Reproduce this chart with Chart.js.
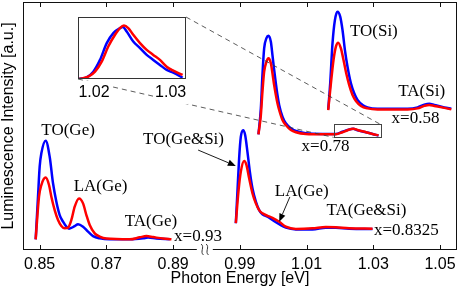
<!DOCTYPE html>
<html><head><meta charset="utf-8">
<script src="https://cdn.jsdelivr.net/npm/chart.js@4/dist/chart.umd.min.js"></script>
<style>
html,body{margin:0;padding:0;background:#fff;}
#wrap{position:relative;width:463px;height:291px;overflow:hidden;}
#main{position:absolute;left:0;top:0;}
#inset{position:absolute;left:60px;top:10px;}
</style></head><body>
<div id="wrap"><canvas id="main" width="463" height="291"></canvas><canvas id="inset" width="135" height="95"></canvas></div>
<script>
// ---- broken energy axis: 0.89 .. 0.97 eV is cut out ----
const GAP = 0.08;
const toAxis = e => (e > 0.9 ? e - GAP : e);
const identity = e => e;

const tickEnergies = [0.85, 0.87, 0.89, 0.99, 1.01, 1.03, 1.05];
const tickLabels   = ['0.85', '0.87', '0.89', '0.99', '1.01', '1.03', '1.05'];

// x = 0.93 (Ge band)
const e093Blue = [0.8488,0.8495,0.8500,0.8505,0.8518,0.8530,0.8540,0.8550,0.8560,0.8570,0.8580,0.8588,0.8605,0.8615,0.8630,0.8645,0.8660,0.8680,0.8710,0.8770,0.8810,0.8825,0.8850,0.8890];
const i093Blue = [4.3,21.5,33.6,39.0,44.1,37.6,26.9,19.5,14.1,11.4,9.4,8.6,9.6,10.4,9.4,7.4,5.6,4.7,4.3,4.3,4.7,5.0,4.6,4.3];
const e093Red  = [0.8488,0.8498,0.8505,0.8518,0.8528,0.8535,0.8545,0.8555,0.8565,0.8575,0.8585,0.8595,0.8605,0.8618,0.8630,0.8640,0.8650,0.8665,0.8680,0.8700,0.8770,0.8800,0.8820,0.8840,0.8870,0.8895];
const i093Red  = [4.3,21.5,26.2,29.2,26.2,21.5,16.1,12.1,9.7,8.75,9.0,12.1,17.5,20.8,18.8,14.1,10.1,6.7,5.4,4.6,4.3,5.1,5.6,5.2,4.6,4.3];

// x = 0.8325
const e08325Blue = [0.9888,0.98928,0.98979,0.9903,0.99099,0.99159,0.99228,0.9930,0.99378,0.9948,0.99579,0.99678,0.99828,0.99978,1.00179,1.0038,1.0068,1.01178,1.01578,1.01878,1.02279,1.02978];
const i08325Blue = [10.8,23.5,37.0,45.7,48.3,46.4,39.6,31.6,24.9,19.5,16.1,14.4,13.4,12.1,10.4,9.0,8.3,8.3,9.0,9.0,8.6,8.5];
const e08325Red  = [0.9888,0.98958,0.9903,0.99129,0.99198,0.99279,0.99378,0.9948,0.99579,0.99678,0.99828,0.99978,1.00179,1.0038,1.0068,1.01178,1.01578,1.01878,1.02279,1.02978];
const i08325Red  = [10.8,23.5,31.6,35.9,34.3,28.9,22.9,18.8,16.1,14.8,13.8,13.0,11.4,9.4,8.5,8.75,9.3,9.15,8.75,8.6];

// x = 0.78
const e078 = [0.99558,0.9963,0.99678,0.99729,0.99798,0.99858,0.9993,0.99978,1.00029,1.0008,1.00128,1.00179,1.00278,1.00378,1.0053,1.0068,1.0098,1.01478,1.0188,1.02078,1.02228,1.02399,1.02528,1.0278,1.02978,1.03158];
const i078Blue = [46.65,57.1,70.6,81.3,85.4,86.4,84.0,78.6,72.6,67.2,62.5,58.5,53.75,51.1,49.1,48.0,47.06,46.8,46.8,47.7,48.4,48.9,48.3,47.5,46.8,46.1];
const i078Red  = [46.65,54.4,63.8,71.9,75.9,77.3,75.3,71.25,66.5,62.5,59.15,56.45,52.4,50.4,48.4,47.5,46.8,46.65,46.65,47.5,48.3,48.9,48.4,47.5,46.8,46.25];

// x = 0.58
const e058Blue = [1.01649,1.01709,1.01778,1.0185,1.01928,1.02009,1.02078,1.0215,1.02228,1.0233,1.02429,1.02528,1.02678,1.02828,1.03128,1.04028,1.04328,1.04529,1.04679,1.04829,1.05129,1.0534];
const i058Blue = [56.7,67.2,83.3,92.7,96.1,94.1,88.7,80.6,73.9,67.2,63.2,60.5,58.5,57.5,57.0,57.0,57.5,58.6,59.0,58.5,57.5,57.0];
const e058Red  = [1.01649,1.0173,1.01808,1.0188,1.01949,1.0203,1.02108,1.02189,1.02279,1.02378,1.0248,1.0263,1.02828,1.03128,1.04028,1.04328,1.04529,1.04679,1.04829,1.05129,1.0534];
const i058Red  = [56.45,67.2,76.6,82.0,83.6,81.3,76.6,71.25,66.5,62.5,60.1,58.1,57.1,56.7,56.7,57.1,58.1,58.5,58.1,57.3,56.7];

// inset: TA(Si) region of x = 0.78, baseline-subtracted & normalised
const eInsetBlue = [1.01804,1.01905,1.01991,1.02078,1.02166,1.02252,1.02339,1.02374,1.02426,1.02512,1.026,1.02687,1.02773,1.0286,1.02948,1.03034,1.03156];
const iInsetBlue = [0,0.028,0.118,0.308,0.579,0.741,0.822,0.838,0.767,0.605,0.498,0.389,0.308,0.227,0.146,0.102,0.021];
const eInsetRed  = [1.01804,1.01926,1.02013,1.021,1.02186,1.02274,1.02339,1.02391,1.02447,1.02512,1.026,1.02687,1.02773,1.0286,1.02948,1.03034,1.03156];
const iInsetRed  = [0,0.037,0.118,0.28,0.524,0.713,0.822,0.864,0.822,0.713,0.579,0.47,0.389,0.308,0.199,0.135,0.065];
const insetTickEnergies = [1.02, 1.03];
const insetTickLabels = ['1.02', '1.03'];

// annotations (energy in eV, intensity in a.u.)
const labelTexts = ['TO(Ge)','LA(Ge)','TA(Ge)','x=0.93','TO(Ge&Si)','LA(Ge)','TA(Ge&Si)','x=0.8325','x=0.78','TO(Si)','TA(Si)','x=0.58'];
const labelE     = [0.8505, 0.8602, 0.8755, 0.8903, 0.8810, 1.0005, 1.0160, 1.0302, 1.0085, 1.0230, 1.0375, 1.0355];
const labelI     = [48.0, 25.5, 11.6, 5.4, 44.4, 23.5, 16.1, 7.8, 41.9, 88.0, 63.8, 53.2];
const arrowFromE = [0.8975, 1.0050];
const arrowFromI = [40.3, 21.4];
const arrowToE   = [0.9888, 1.0018];
const arrowToI   = [33.9, 11.4];
const zoomBoxE   = [1.0181, 1.0321];
const zoomBoxI   = [45.4, 50.7];
const BREAK_AXIS = 0.8995;

const SANS = "'Liberation Sans', Arial, sans-serif";
const SERIF = "'Liberation Serif', 'Times New Roman', serif";
const BLUE = '#0000ff', RED = '#ff0000';

const series = (E, I, color, order, map) => ({
  data: E.map((e, k) => ({x: (map || toAxis)(e), y: I[k]})),
  borderColor: color, backgroundColor: color, borderWidth: 2.5,
  pointRadius: 0, fill: false, cubicInterpolationMode: 'monotone', order: order
});

// ---------------- inset ----------------
const insetBox = {
  id: 'insetBox',
  beforeDatasetsDraw(c) {
    const a = c.chartArea, x = c.ctx;
    x.save(); x.fillStyle = '#fff'; x.fillRect(a.left, a.top, a.right - a.left, a.bottom - a.top); x.restore();
  },
  afterDraw(c) {
    const a = c.chartArea, x = c.ctx;
    x.save(); x.strokeStyle = '#333'; x.lineWidth = 1;
    x.strokeRect(Math.round(a.left) + 0.5, Math.round(a.top) + 0.5, Math.round(a.right - a.left) - 1, Math.round(a.bottom - a.top) - 1);
    x.restore();
  }
};
const inset = new Chart(document.getElementById('inset'), {
  type: 'line',
  data: { datasets: [ series(eInsetRed, iInsetRed, RED, 0, identity), series(eInsetBlue, iInsetBlue, BLUE, 1, identity) ] },
  options: {
    responsive: false, animation: false, devicePixelRatio: 1,
    layout: { padding: { left: 18, top: 7, right: 9, bottom: 0 } },
    plugins: { legend: { display: false }, tooltip: { enabled: false } },
    scales: {
      x: { type: 'linear', min: 1.01791, max: 1.032,
           afterBuildTicks: s => { s.ticks = insetTickEnergies.map(e => ({ value: e })); },
           afterFit: s => { s.height = 26; },
           grid: { display: false, drawTicks: false }, border: { display: false },
           ticks: { callback: (v, k) => insetTickLabels[k], autoSkip: false, maxRotation: 0,
                    font: { family: SANS, size: 16 }, color: '#000', padding: 4,
                    showLabelBackdrop: true, backdropColor: '#fff', backdropPadding: 2 } },
      y: { type: 'linear', min: 0, max: 1,
           afterFit: s => { s.width = 0; },
           grid: { display: false, drawTicks: false }, border: { display: false },
           ticks: { display: false } }
    }
  },
  plugins: [insetBox]
});

// ---------------- main ----------------
function arrow(ctx, x1, y1, x2, y2) {
  const ang = Math.atan2(y2 - y1, x2 - x1), L = 8, W = 3.2;
  const bx = x2 - L * Math.cos(ang), by = y2 - L * Math.sin(ang);
  ctx.beginPath(); ctx.moveTo(x1, y1); ctx.lineTo(bx, by); ctx.stroke();
  ctx.beginPath(); ctx.moveTo(x2, y2);
  ctx.lineTo(bx + W * Math.sin(ang), by - W * Math.cos(ang));
  ctx.lineTo(bx - W * Math.sin(ang), by + W * Math.cos(ang));
  ctx.closePath(); ctx.fill();
}
const decor = {
  id: 'decor',
  afterDraw(c) {
    const ctx = c.ctx, a = c.chartArea, xs = c.scales.x, ys = c.scales.y;
    const L = Math.round(a.left) + 0.5, R = Math.round(a.right) - 0.5, T = Math.round(a.top) + 0.5, B = Math.round(a.bottom) - 0.5;
    ctx.save();
    // box
    ctx.strokeStyle = '#111'; ctx.lineWidth = 1;
    ctx.strokeRect(L, T, R - L, B - T);
    // ticks (inward, top and bottom)
    xs.ticks.forEach(t => {
      const px = Math.round(xs.getPixelForValue(t.value)) + 0.5;
      ctx.beginPath(); ctx.moveTo(px, B); ctx.lineTo(px, B - 4.5); ctx.moveTo(px, T); ctx.lineTo(px, T + 4.5); ctx.stroke();
    });
    // axis break
    const bx = xs.getPixelForValue(BREAK_AXIS);
    ctx.fillStyle = '#fff'; ctx.fillRect(bx - 8, B - 2, 16, 4);
    ctx.strokeStyle = '#222'; ctx.lineWidth = 0.9;
    [-2.5, 2.5].forEach(d => {
      const cx = bx + d;
      ctx.beginPath(); ctx.moveTo(cx - 1.2, B - 5.5);
      ctx.bezierCurveTo(cx + 2.8, B - 2.5, cx - 2.8, B + 2.5, cx + 1.2, B + 5.5); ctx.stroke();
    });
    // labels
    ctx.fillStyle = '#000'; ctx.font = '17px ' + SERIF; ctx.textAlign = 'left'; ctx.textBaseline = 'middle';
    labelTexts.forEach((s, k) => ctx.fillText(s, xs.getPixelForValue(toAxis(labelE[k])), ys.getPixelForValue(labelI[k])));
    // arrows
    ctx.strokeStyle = '#000'; ctx.lineWidth = 0.9;
    arrowFromE.forEach((e, k) => arrow(ctx,
      xs.getPixelForValue(toAxis(e)), ys.getPixelForValue(arrowFromI[k]),
      xs.getPixelForValue(toAxis(arrowToE[k])), ys.getPixelForValue(arrowToI[k])));
    // zoom box
    const zx1 = xs.getPixelForValue(toAxis(zoomBoxE[0])), zx2 = xs.getPixelForValue(toAxis(zoomBoxE[1]));
    const zy1 = ys.getPixelForValue(zoomBoxI[1]), zy2 = ys.getPixelForValue(zoomBoxI[0]);
    ctx.strokeStyle = '#444'; ctx.lineWidth = 1;
    ctx.strokeRect(Math.round(zx1) + 0.5, Math.round(zy1) + 0.5, Math.round(zx2 - zx1), Math.round(zy2 - zy1));
    // dashed connectors to inset
    const ia = inset.chartArea, cv = inset.canvas;
    const ox = cv.offsetLeft, oy = cv.offsetTop;
    ctx.setLineDash([5, 4]); ctx.strokeStyle = '#333'; ctx.lineWidth = 0.8;
    ctx.beginPath();
    ctx.moveTo(ox + ia.right, oy + ia.top); ctx.lineTo(zx2, zy1);
    ctx.moveTo(ox + ia.left, oy + ia.bottom); ctx.lineTo(zx1, zy2);
    ctx.stroke();
    ctx.restore();
  }
};

new Chart(document.getElementById('main'), {
  type: 'line',
  data: { datasets: [
    series(e093Red, i093Red, RED, 0), series(e093Blue, i093Blue, BLUE, 1),
    series(e08325Red, i08325Red, RED, 0), series(e08325Blue, i08325Blue, BLUE, 1),
    series(e078, i078Red, RED, 0), series(e078, i078Blue, BLUE, 1),
    series(e058Red, i058Red, RED, 0), series(e058Blue, i058Blue, BLUE, 1)
  ] },
  options: {
    responsive: false, animation: false, devicePixelRatio: 1,
    layout: { padding: { top: 2, right: 6, left: 0, bottom: 0 } },
    plugins: { legend: { display: false }, tooltip: { enabled: false } },
    scales: {
      x: { type: 'linear', min: 0.845, max: 0.9751,
           afterBuildTicks: s => { s.ticks = tickEnergies.map(e => ({ value: toAxis(e) })); },
           afterFit: s => { s.height = 41; },
           grid: { display: false, drawTicks: false }, border: { display: false },
           ticks: { callback: (v, k) => tickLabels[k], autoSkip: false, maxRotation: 0,
                    font: { family: SANS, size: 16 }, color: '#000', padding: 5 },
           title: { display: true, text: 'Photon Energy [eV]', color: '#000',
                    font: { family: SANS, size: 16, lineHeight: 1.1 }, padding: { top: 0, bottom: 4 } } },
      y: { min: 0, max: 100,
           afterFit: s => { s.width = 23; },
           grid: { display: false, drawTicks: false }, border: { display: false },
           ticks: { display: false },
           title: { display: true, text: 'Luminescence Intensity [a.u.]', color: '#000',
                    font: { family: SANS, size: 16, lineHeight: 1.1 }, padding: { top: 0, bottom: 0 } } }
    }
  },
  plugins: [decor]
});
</script></body></html>
